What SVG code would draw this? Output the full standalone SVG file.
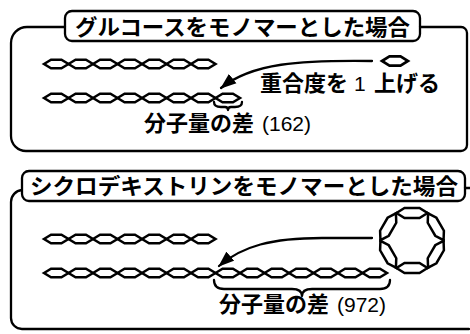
<svg xmlns="http://www.w3.org/2000/svg" xmlns:xlink="http://www.w3.org/1999/xlink" width="470" height="334" viewBox="0 0 470 334">
<style>
.ln{fill:none;stroke:#000;stroke-width:2.3;stroke-linejoin:round;stroke-linecap:round}
.hx{fill:#fff;stroke:#000;stroke-width:2.5;stroke-linejoin:miter}
.jp{font-family:"Noto Sans CJK JP","Liberation Sans",sans-serif;font-weight:bold;font-size:22px;fill:#000}
.num{font-family:"Liberation Sans",Arial,sans-serif;font-weight:normal;font-size:21px}
</style>
<defs>
<polygon id="hex" points="-12.25,0 -5.2,-4.3 5.2,-4.3 12.25,0 5.2,4.3 -5.2,4.3"/>
<polygon id="hexR" points="-15.5,0 -7.5,-5 7.5,-5 15.5,0 7.5,5 -7.5,5"/>
<marker id="ah" markerWidth="17" markerHeight="13" refX="15" refY="6.5" orient="auto" markerUnits="userSpaceOnUse"><path d="M0,0.5 L16,6.5 L0,12.5 z" fill="#000"/></marker>
</defs>
<rect width="470" height="334" fill="#fff"/>

<!-- panel 1: glucose as monomer -->
<g id="panel1">
<path class="ln" d="M65 27 H27 A16 16 0 0 0 11 43 V136 A15 15 0 0 0 26 151 H461 A6 6 0 0 0 467 145 V33 A6 6 0 0 0 461 27 H420"/>
<rect class="ln" x="65" y="11" width="355" height="30" rx="7" fill="#fff"/>
<text class="jp" x="75" y="34.5" textLength="335" lengthAdjust="spacingAndGlyphs">グルコースをモノマーとした場合</text>
</g>
<g id="chain1a" class="hx">
<use xlink:href="#hex" x="56.25" y="64"/><use xlink:href="#hex" x="80.75" y="64"/><use xlink:href="#hex" x="105.25" y="64"/><use xlink:href="#hex" x="129.75" y="64"/><use xlink:href="#hex" x="154.25" y="64"/><use xlink:href="#hex" x="178.75" y="64"/><use xlink:href="#hex" x="203.25" y="64"/>
</g>
<g id="chain1b" class="hx">
<use xlink:href="#hex" x="56.25" y="98"/><use xlink:href="#hex" x="80.75" y="98"/><use xlink:href="#hex" x="105.25" y="98"/><use xlink:href="#hex" x="129.75" y="98"/><use xlink:href="#hex" x="154.25" y="98"/><use xlink:href="#hex" x="178.75" y="98"/><use xlink:href="#hex" x="203.25" y="98"/><use xlink:href="#hex" x="227.75" y="98"/>
</g>
<g id="glucose" class="hx"><use xlink:href="#hex" transform="translate(395 61) scale(1.06)"/></g>
<g id="labels1">
<text class="jp" y="90.5"><tspan x="260">重合度を</tspan><tspan class="num" x="354">1</tspan><tspan x="374">上げる</tspan></text>
<text class="jp" y="131"><tspan x="144">分子量の差</tspan><tspan class="num" x="262">(162)</tspan></text>
</g>

<!-- panel 2: cyclodextrin as monomer -->
<g id="panel2">
<path class="ln" d="M22 190 A12 12 0 0 0 11 202 V318 A11 11 0 0 0 22 329 H469 M465 188 H470"/>
<rect class="ln" x="22" y="171" width="443" height="30" rx="7" fill="#fff"/>
<text class="jp" x="30" y="193.5" textLength="428" lengthAdjust="spacingAndGlyphs">シクロデキストリンをモノマーとした場合</text>
</g>
<g id="chain2a" class="hx">
<use xlink:href="#hex" x="56.25" y="239"/><use xlink:href="#hex" x="80.75" y="239"/><use xlink:href="#hex" x="105.25" y="239"/><use xlink:href="#hex" x="129.75" y="239"/><use xlink:href="#hex" x="154.25" y="239"/><use xlink:href="#hex" x="178.75" y="239"/><use xlink:href="#hex" x="203.25" y="239"/>
</g>
<g id="chain2b" class="hx">
<use xlink:href="#hex" x="56.25" y="273"/><use xlink:href="#hex" x="80.75" y="273"/><use xlink:href="#hex" x="105.25" y="273"/><use xlink:href="#hex" x="129.75" y="273"/><use xlink:href="#hex" x="154.25" y="273"/><use xlink:href="#hex" x="178.75" y="273"/><use xlink:href="#hex" x="203.25" y="273"/><use xlink:href="#hex" x="227.75" y="273"/><use xlink:href="#hex" x="252.25" y="273"/><use xlink:href="#hex" x="276.75" y="273"/><use xlink:href="#hex" x="301.25" y="273"/><use xlink:href="#hex" x="325.75" y="273"/><use xlink:href="#hex" x="350.25" y="273"/><use xlink:href="#hex" x="374.75" y="273"/>
</g>
<g id="cyclodextrin" class="hx" transform="translate(412 240.5)">
<use xlink:href="#hexR" transform="rotate(0) translate(0 -27.5)"/>
<use xlink:href="#hexR" transform="rotate(60) translate(0 -27.5)"/>
<use xlink:href="#hexR" transform="rotate(120) translate(0 -27.5)"/>
<use xlink:href="#hexR" transform="rotate(180) translate(0 -27.5)"/>
<use xlink:href="#hexR" transform="rotate(240) translate(0 -27.5)"/>
<use xlink:href="#hexR" transform="rotate(300) translate(0 -27.5)"/>
</g>
<g id="labels2">
<text class="jp" y="312"><tspan x="219">分子量の差</tspan><tspan class="num" x="337">(972)</tspan></text>
</g>

<!-- connectors: arrows and braces -->
<g id="connectors" class="ln">
<path d="M372 61 C300 60 252 63 221 88" marker-end="url(#ah)"/>
<path d="M214 102 C214 106 217 107 221 107 L225 107 C227 107 228 108 228 110 C228 108 229 107 231 107 L235 107 C239 107 242 106 242 102"/>
<path d="M372 238 L322 238 C272 238 242 246 219 266" marker-end="url(#ah)"/>
<path d="M214 280 C214 286 217 289 224 289 L292 289 C298 289 302 291 302 296 C302 291 306 289 312 289 L380 289 C387 289 390 286 390 280"/>
</g>
</svg>
